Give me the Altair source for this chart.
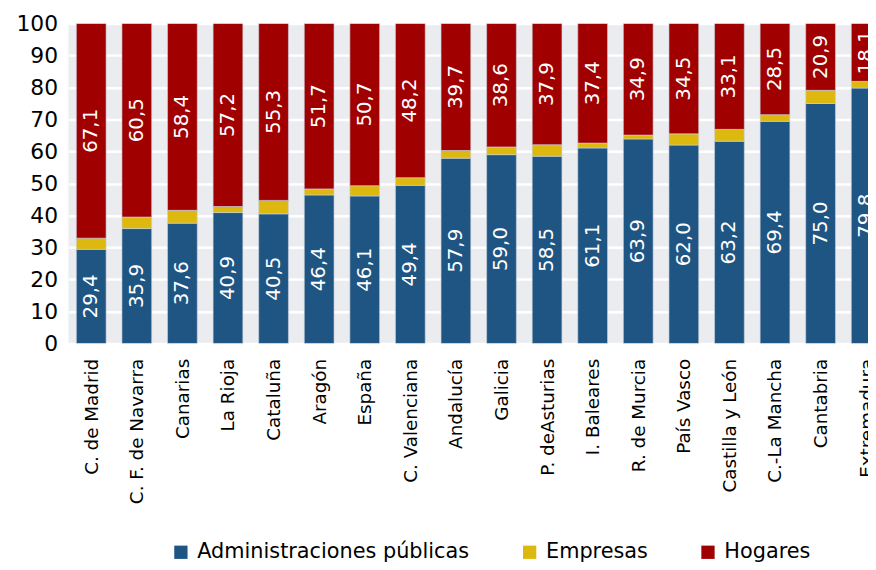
import altair as alt
import pandas as pd

regions = ["C. de Madrid", "C. F. de Navarra", "Canarias", "La Rioja", "Cataluña",
           "Aragón", "España", "C. Valenciana", "Andalucía", "Galicia",
           "P. deAsturias", "I. Baleares", "R. de Murcia", "País Vasco",
           "Castilla y León", "C.-La Mancha", "Cantabria", "Extremadura"]
administraciones = [29.4, 35.9, 37.6, 40.9, 40.5, 46.4, 46.1, 49.4, 57.9, 59.0,
                    58.5, 61.1, 63.9, 62.0, 63.2, 69.4, 75.0, 79.8]
empresas = [3.5, 3.6, 4.0, 1.9, 4.2, 1.9, 3.2, 2.4, 2.4, 2.4,
            3.6, 1.5, 1.2, 3.5, 3.7, 2.1, 4.1, 2.1]
hogares = [67.1, 60.5, 58.4, 57.2, 55.3, 51.7, 50.7, 48.2, 39.7, 38.6,
           37.9, 37.4, 34.9, 34.5, 33.1, 28.5, 20.9, 18.1]

series = ["Administraciones públicas", "Empresas", "Hogares"]
colors = ["#1F5583", "#DDB910", "#A00000"]

rows = []
for i, r in enumerate(regions):
    start = 0.0
    for s, vals in zip(series, [administraciones, empresas, hogares]):
        v = vals[i]
        end = start + v
        rows.append({
            "idx": i, "region": r, "serie": s, "value": v,
            "start": start, "end": min(end, 100.0),
            "mid": start + v / 2,
            "label": f"{v:.1f}".replace(".", ","),
            "show": s != "Empresas",
        })
        start = end
df = pd.DataFrame(rows)

FONT = "DejaVu Sans"
names_js = "[" + ",".join("'" + r + "'" for r in regions) + "]"

xscale = alt.Scale(domain=[-0.5, 17.04], nice=False, zero=False, padding=0)
xaxis = alt.Axis(values=list(range(len(regions))), labelExpr=names_js + "[datum.value]",
                 labelAngle=-90, labelAlign="right", labelBaseline="middle",
                 labelOverlap=False, labelFlush=False, labelBound=False,
                 ticks=False, domain=False, grid=False, title=None,
                 labelFont=FONT, labelFontSize=18.5, labelColor="#000000", labelPadding=15)
yscale = alt.Scale(domain=[0, 100], nice=False, padding=0)
yaxis = alt.Axis(values=list(range(0, 101, 10)), ticks=False, domain=False,
                 labelOverlap=False, labelFlush=False,
                 grid=True, gridColor="#FFFFFF", gridWidth=2.5, title=None,
                 labelFont=FONT, labelFontSize=22, labelColor="#000000", labelPadding=11)

bars = alt.Chart(df).mark_bar(size=30, clip=True, stroke="#c9d3df", strokeWidth=0.6).encode(
    x=alt.X("idx:Q", scale=xscale, axis=xaxis),
    y=alt.Y("start:Q", scale=yscale, axis=yaxis),
    y2="end:Q",
    color=alt.Color("serie:N", scale=alt.Scale(domain=series, range=colors),
                    legend=alt.Legend(orient="none", legendX=103, legendY=523,
                                      direction="horizontal", title=None,
                                      symbolType="square", symbolSize=180,
                                      symbolStrokeWidth=0, labelFont=FONT,
                                      labelFontSize=21, labelColor="#000000",
                                      labelLimit=0,
                                      labelOffset=6, columnPadding=50, padding=0,
                                      symbolOpacity=1)),
)

labels = alt.Chart(df).transform_filter("datum.show").mark_text(
    angle=270, color="white", font=FONT, fontSize=20, clip=True,
    align="center", baseline="middle").encode(
    x=alt.X("idx:Q", scale=xscale, axis=xaxis),
    y=alt.Y("mid:Q", scale=yscale, axis=yaxis),
    text="label:N",
)

chart = (bars + labels).properties(
    width=807, height=323,
    autosize=alt.AutoSizeParams(type="none"),
    padding={"left": 61, "top": 13, "right": 0, "bottom": 218},
).configure_view(fill="#EBECEF", stroke=None)

chart.save("out.html", embed_options={"renderer": "svg", "actions": False})
